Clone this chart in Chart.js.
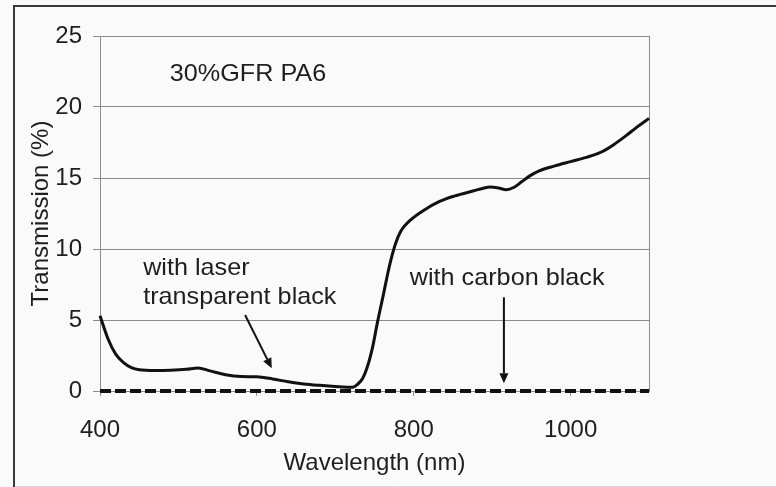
<!DOCTYPE html>
<html><head><meta charset="utf-8">
<script src="https://cdn.jsdelivr.net/npm/chart.js@4/dist/chart.umd.min.js"></script>
<style>
html,body{margin:0;padding:0;background:#fafafa;}
#wrap{position:relative;width:776px;height:487px;}
</style></head><body>
<div id="wrap"><canvas id="c" width="776" height="487"></canvas></div>
<script>
// ---- data ----
const wavelengths = [400,410,420,430,440,450,470,490,510,525,540,560,580,600,620,640,660,680,700,715,722,728,735,742,748,754,761,769,777,784,795,812,833,850,870,885,898,908,918,928,938,948,960,980,1000,1020,1040,1055,1070,1085,1100];
const laserTransparentBlack = [5.3,3.7,2.6,2.0,1.65,1.5,1.45,1.47,1.53,1.62,1.42,1.15,1.02,1.0,0.85,0.65,0.5,0.4,0.32,0.27,0.27,0.45,0.9,1.9,3.2,4.9,6.7,8.8,10.4,11.3,12.0,12.7,13.35,13.7,14.0,14.22,14.37,14.3,14.18,14.35,14.75,15.15,15.5,15.85,16.15,16.45,16.85,17.35,17.95,18.6,19.2];
const carbonWavelengths = [400, 1100];
const carbonBlack = [0, 0];
const xTicks = [400, 600, 800, 1000];
const yTicks = [0, 5, 10, 15, 20, 25];
const xTitle = 'Wavelength (nm)';
const yTitle = 'Transmission (%)';
const chartLabel = '30%GFR PA6';
const laserLabel = ['with laser', 'transparent black'];
const carbonLabel = 'with carbon black';

// annotation anchors (data coordinates)
const labelAnchors = {
  title: [489, 21.8],
  laser1: [455, 8.17],
  laser2: [455, 6.13],
  carbon: [795, 7.46]
};
const arrows = [
  {from: [585, 5.35], to: [619, 1.6]},
  {from: [915, 6.6], to: [915, 0.55]}
];

const FONT = '"Liberation Sans", Arial, sans-serif';
const TXT = '#1e1e1e';

const deco = {
  id: 'deco',
  beforeDraw(chart) {
    const ctx = chart.ctx;
    ctx.save();
    ctx.fillStyle = '#fafafa';
    ctx.fillRect(0, 0, chart.width, chart.height);
    ctx.strokeStyle = '#3a3a3a';
    ctx.lineWidth = 2;
    ctx.beginPath();
    ctx.moveTo(14, chart.height); ctx.lineTo(14, 6); ctx.lineTo(chart.width, 6);
    ctx.stroke();
    ctx.strokeStyle = '#d8d8d8';
    ctx.lineWidth = 1;
    ctx.beginPath();
    ctx.moveTo(15, chart.height - 0.5); ctx.lineTo(chart.width, chart.height - 0.5);
    ctx.stroke();
    ctx.restore();
  },
  beforeDatasetsDraw(chart) {
    const ctx = chart.ctx, a = chart.chartArea;
    ctx.save();
    ctx.strokeStyle = '#8c8c8c';
    ctx.lineWidth = 1;
    ctx.beginPath();
    ctx.moveTo(Math.round(a.right) + 0.5, a.top);
    ctx.lineTo(Math.round(a.right) + 0.5, a.bottom);
    ctx.stroke();
    ctx.restore();
  },
  afterDatasetsDraw(chart) {
    const ctx = chart.ctx;
    const xs = chart.scales.x, ys = chart.scales.y;
    const px = v => xs.getPixelForValue(v), py = v => ys.getPixelForValue(v);
    ctx.save();
    ctx.fillStyle = TXT;
    ctx.font = '24px ' + FONT;
    ctx.textAlign = 'left';
    ctx.textBaseline = 'alphabetic';
    const stretched = (t, x, y) => { ctx.save(); ctx.translate(x, y); ctx.scale(1.05, 1); ctx.fillText(t, 0, 0); ctx.restore(); };
    stretched(chartLabel, px(labelAnchors.title[0]), py(labelAnchors.title[1]));
    stretched(laserLabel[0], px(labelAnchors.laser1[0]), py(labelAnchors.laser1[1]));
    stretched(laserLabel[1], px(labelAnchors.laser2[0]), py(labelAnchors.laser2[1]));
    stretched(carbonLabel, px(labelAnchors.carbon[0]), py(labelAnchors.carbon[1]));
    ctx.strokeStyle = '#111';
    ctx.fillStyle = '#111';
    ctx.lineWidth = 2;
    arrows.forEach(ar => {
      const x1 = px(ar.from[0]), y1 = py(ar.from[1]);
      const x2 = px(ar.to[0]), y2 = py(ar.to[1]);
      const ang = Math.atan2(y2 - y1, x2 - x1);
      const hl = 10, hw = 4.5;
      const bx = x2 - hl * Math.cos(ang), by = y2 - hl * Math.sin(ang);
      ctx.beginPath();
      ctx.moveTo(x1, y1); ctx.lineTo(bx, by);
      ctx.stroke();
      ctx.beginPath();
      ctx.moveTo(x2, y2);
      ctx.lineTo(bx + hw * Math.sin(ang), by - hw * Math.cos(ang));
      ctx.lineTo(bx - hw * Math.sin(ang), by + hw * Math.cos(ang));
      ctx.closePath();
      ctx.fill();
    });
    ctx.restore();
  }
};

new Chart(document.getElementById('c'), {
  type: 'line',
  data: {
    datasets: [
      {
        label: 'with laser transparent black',
        data: wavelengths.map((w, i) => ({x: w, y: laserTransparentBlack[i]})),
        borderColor: '#111',
        borderWidth: 3,
        pointRadius: 0,
        cubicInterpolationMode: 'monotone',
        fill: false,
        clip: false
      },
      {
        label: 'with carbon black',
        data: carbonWavelengths.map((w, i) => ({x: w, y: carbonBlack[i]})),
        borderColor: '#111',
        borderWidth: 4,
        borderDash: [11, 4],
        pointRadius: 0,
        fill: false,
        clip: false
      }
    ]
  },
  options: {
    responsive: false,
    animation: false,
    devicePixelRatio: 1,
    layout: {padding: {left: 0, top: 36, right: 127, bottom: 0}},
    plugins: {legend: {display: false}, tooltip: {enabled: false}},
    scales: {
      x: {
        type: 'linear',
        min: 400, max: 1100,
        afterBuildTicks: s => { s.ticks = xTicks.map(v => ({value: v})); },
        afterFit: s => { s.height = 96; },
        grid: {drawOnChartArea: false, drawTicks: true, tickLength: 5, color: '#8c8c8c'},
        border: {display: true, color: '#8c8c8c'},
        ticks: {font: {family: FONT, size: 24}, color: TXT, padding: 20, maxRotation: 0, callback: v => String(v)},
        title: {display: true, text: xTitle, font: {family: FONT, size: 24}, color: TXT, padding: {top: 0, bottom: 9}}
      },
      y: {
        min: 0, max: 25,
        afterBuildTicks: s => { s.ticks = yTicks.map(v => ({value: v})); },
        afterFit: s => { s.width = 100; },
        grid: {color: '#8c8c8c', lineWidth: 1, tickLength: 7},
        border: {display: true, color: '#8c8c8c'},
        ticks: {font: {family: FONT, size: 24}, color: TXT, padding: 11, callback: v => String(v)},
        title: {display: true, text: yTitle, font: {family: FONT, size: 24}, color: TXT, padding: {top: 27, bottom: 0}}
      }
    }
  },
  plugins: [deco]
});
</script>
</body></html>
